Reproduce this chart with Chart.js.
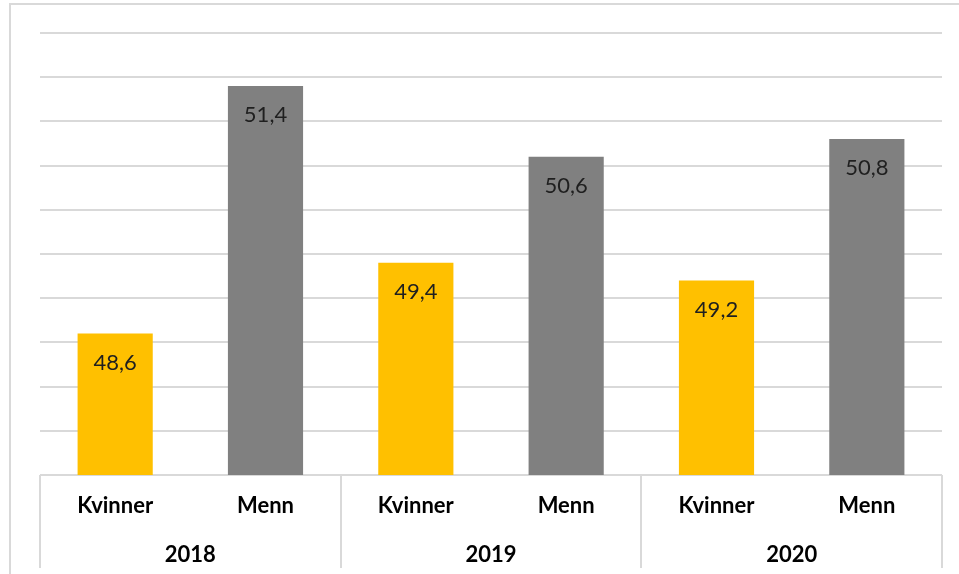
<!DOCTYPE html>
<html>
<head>
<meta charset="utf-8">
<script src="https://cdn.jsdelivr.net/npm/chart.js@4/dist/chart.umd.min.js"></script>
<style>
  html, body { margin: 0; padding: 0; background: #fff; }
  #wrap { width: 959px; height: 574px; position: relative; }
</style>
</head>
<body>
<div id="wrap"><canvas id="c" width="959" height="574"></canvas></div>
<script>
const years = ['2018', '2019', '2020'];
const genders = ['Kvinner', 'Menn'];
const kvinner = [48.6, 49.4, 49.2];
const menn = [51.4, 50.6, 50.8];
const colorKvinner = '#FFC000';
const colorMenn = '#808080';

const labels = [];
const values = [];
const colors = [];
years.forEach((y, i) => {
  labels.push(genders[0]); values.push(kvinner[i]); colors.push(colorKvinner);
  labels.push(genders[1]); values.push(menn[i]); colors.push(colorMenn);
});

const GRID = '#d9d9d9';

const decor = {
  id: 'decor',
  beforeDraw(chart) {
    const ctx = chart.ctx;
    ctx.save();
    ctx.strokeStyle = GRID;
    ctx.lineWidth = 2;
    ctx.beginPath();
    ctx.moveTo(10, 574);
    ctx.lineTo(10, 4);
    ctx.lineTo(959, 4);
    ctx.stroke();
    ctx.restore();
  },
  afterDraw(chart) {
    const ctx = chart.ctx;
    const xs = chart.scales.x;
    const bottom = chart.chartArea.bottom;
    const pos = [xs.left];
    for (let i = 1; i < years.length; i++) {
      pos.push((xs.getPixelForValue(2 * i - 1) + xs.getPixelForValue(2 * i)) / 2);
    }
    pos.push(xs.right);
    ctx.save();
    ctx.strokeStyle = GRID;
    ctx.lineWidth = 2;
    pos.forEach(p => {
      ctx.beginPath();
      ctx.moveTo(Math.round(p), bottom);
      ctx.lineTo(Math.round(p), 568);
      ctx.stroke();
    });
    ctx.restore();
  },
  afterDatasetsDraw(chart) {
    const ctx = chart.ctx;
    const meta = chart.getDatasetMeta(0);
    ctx.save();
    ctx.font = '22px Lato';
    ctx.fillStyle = '#1f1f1f';
    ctx.textAlign = 'center';
    ctx.textBaseline = 'middle';
    meta.data.forEach((bar, i) => {
      const v = chart.data.datasets[0].data[i];
      ctx.fillText(v.toFixed(1).replace('.', ','), bar.x, bar.y + 29);
    });
    ctx.restore();
  }
};

new Chart(document.getElementById('c'), {
  type: 'bar',
  data: {
    labels: labels,
    datasets: [{
      data: values,
      backgroundColor: colors,
      borderWidth: 0,
      barPercentage: 0.5,
      categoryPercentage: 1.0
    }]
  },
  options: {
    responsive: false,
    animation: false,
    events: [],
    layout: { padding: { left: 40, right: 17, top: 33, bottom: 0 } },
    plugins: { legend: { display: false }, tooltip: { enabled: false } },
    scales: {
      y: {
        min: 47, max: 52,
        ticks: { display: false, stepSize: 0.5 },
        grid: { color: GRID, lineWidth: 2, drawTicks: false },
        border: { display: false }
      },
      x: {
        position: 'bottom',
        grid: { display: false },
        border: { display: false },
        ticks: { color: '#000', font: { family: 'Lato', size: 22, weight: 'bold' }, padding: 10, maxRotation: 0, autoSkip: false },
        afterFit(scale) { scale.height = 50; }
      },
      x2: {
        type: 'category',
        position: 'bottom',
        labels: years,
        offset: true,
        grid: { display: false },
        border: { display: false },
        ticks: { color: '#000', font: { family: 'Lato', size: 22, weight: 'bold' }, padding: 9, maxRotation: 0, autoSkip: false },
        afterFit(scale) { scale.height = 49; }
      }
    }
  },
  plugins: [decor]
});
</script>
</body>
</html>
